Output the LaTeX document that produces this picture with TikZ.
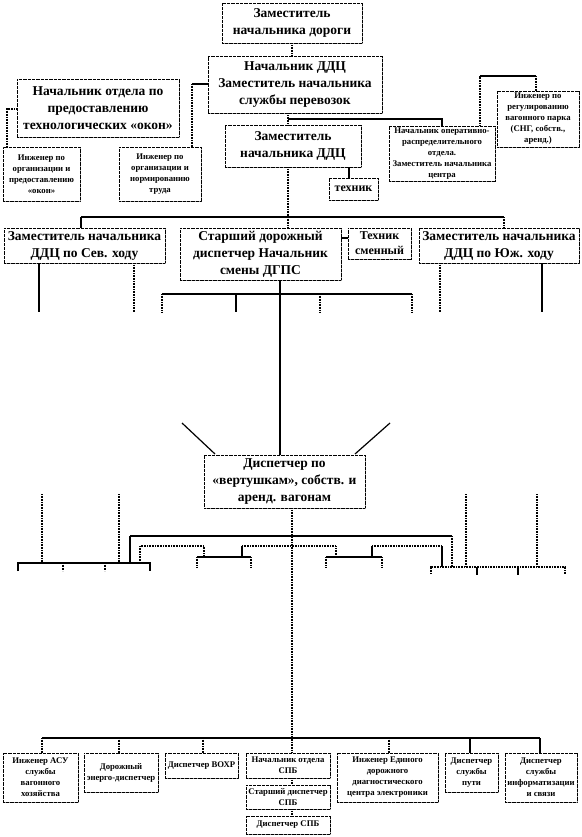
\documentclass[tikz,border=0pt]{standalone}
\usepackage{fontspec}
\setmainfont{Liberation Serif}
\usetikzlibrary{shadows}
\begin{document}
\begin{tikzpicture}[x=1pt,y={(0pt,-1pt)},
  box/.style={draw=black, dash pattern=on 0.8pt off 0.5pt, line width=0.7pt, fill=white, inner sep=0pt, align=center,
    drop shadow={shadow xshift=1.2pt, shadow yshift=-1.2pt, fill=gray!70, opacity=1}},
  sz/.style 2 args={minimum width=#1pt, minimum height=#2pt},
  big/.style={font=\fontsize{13.5}{17}\selectfont\bfseries},
  mid/.style={font=\fontsize{12}{15}\selectfont\bfseries},
  sml/.style={font=\fontsize{8.7}{11}\selectfont\bfseries},
  sol/.style={line width=1.2pt},
  dot/.style={line width=1.4pt, dash pattern=on 1pt off 0.6pt}]
\useasboundingbox (0,0) rectangle (581,837);
% ---- boxes ----
\node[box,big,sz={140}{40}] (b1) at (292,23) {Заместитель\\начальника дороги};
\node[box,big,sz={174}{57}] (b2) at (295,84.5) {Начальник ДДЦ\\Заместитель начальника\\службы перевозок};
\node[box,big,sz={162}{58}] (b3) at (98,108) {Начальник отдела по\\предоставлению\\технологических «окон»};
\node[box,sml,sz={77}{54}] (s1) at (41.5,174) {Инженер по\\организации и\\предоставлению\\«окон»};
\node[box,sml,sz={82}{54}] (s2) at (160,174) {Инженер по\\организации и\\нормированию\\труда};
\node[box,big,sz={136}{42}] (b4) at (293,146) {Заместитель\\начальника ДДЦ};
\node[box,sml,sz={106}{55}] (b5) at (442,153.5) {Начальник оперативно-\\распределительного\\отдела.\\Заместитель начальника\\центра};
\node[box,sml,sz={82}{56}] (b6) at (538,119) {Инженер по\\регулированию\\вагонного парка\\(СНГ, собств.,\\аренд.)};
\node[box,mid,sz={49}{22}] (b7) at (353.5,189) {техник};
\node[box,big,sz={161}{35}] (c1) at (84.5,245.5) {Заместитель начальника\\ДДЦ по Сев. ходу};
\node[box,big,sz={161}{52}] (c2) at (260.5,254) {Старший дорожный\\диспетчер Начальник\\смены ДГПС};
\node[box,mid,sz={63}{31}] (c3) at (379.5,243.5) {Техник\\сменный};
\node[box,big,sz={160}{35}] (c4) at (499,245.5) {Заместитель начальника\\ДДЦ по Юж. ходу};
\node[box,big,sz={161}{53}] (d) at (284.5,481.5) {Диспетчер по\\«вертушкам», собств. и\\аренд. вагонам};
\node[box,sml,sz={75}{49}] (e1) at (40.5,777.5) {Инженер АСУ\\службы\\вагонного\\хозяйства};
\node[box,sml,sz={74}{39}] (e2) at (121,772.5) {Дорожный\\энерго-диспетчер};
\node[box,sml,sz={73}{25}] (e3) at (201.5,765.5) {Диспетчер ВОХР};
\node[box,sml,sz={84}{25}] (e4) at (288,765.5) {Начальник отдела\\СПБ};
\node[box,sml,sz={84}{24}] (e5) at (288,797) {Старший диспетчер\\СПБ};
\node[box,sml,sz={84}{18}] (e6) at (288,825) {Диспетчер СПБ};
\node[box,sml,sz={101}{49}] (e7) at (387.5,777.5) {Инженер Единого\\дорожного\\диагностического\\центра электроники};
\node[box,sml,sz={53}{39}] (e8) at (471.5,772.5) {Диспетчер\\службы\\пути};
\node[box,sml,sz={72}{49}] (e9) at (541,777.5) {Диспетчер\\службы\\информатизации\\и связи};
% ---- coordinates ----
\coordinate (x292) at (292,0);
\coordinate (x288) at (288,0);
\coordinate (x280) at (280,0);
\coordinate (x349) at (349,0);
\coordinate (j1) at (192,84);
\coordinate (j2) at (7,109);
\coordinate (m1) at (288,119);
\coordinate (j3) at (442,119);
\coordinate (j4) at (480,76);
\coordinate (j5) at (536,76);
\coordinate (bl) at (81,217);
\coordinate (br) at (504,217);
\coordinate (y238) at (0,238);
% ---- top connectors ----
\draw[dot] (b1.south -| x292) -- (b2.north -| x292);
\draw[sol] (b2.west |- j1) -- (j1);
\draw[dot] (j1) -- (j1 |- s2.north);
\draw[dot] (b3.west |- j2) -- (j2) -- (j2 |- s1.north);
\draw[dot] (b2.south -| x288) -- (b4.north -| x288);
\draw[sol] (m1) -- (j3) -- (j3 |- b5.north);
\draw[dot] (b5.north -| j4) -- (j4);
\draw[sol] (j4) -- (j5);
\draw[dot] (j5) -- (j5 |- b6.north);
\draw[sol] (b4.south -| x349) -- (b7.north -| x349);
\draw[dot] (b4.south -| x288) -- (c2.north -| x288);
\draw[sol] (bl) -- (br);
\draw[sol] (bl) -- (bl |- c1.north);
\draw[dot] (br) -- (br |- c4.north);
\draw[sol] (c2.east |- y238) -- (c3.west |- y238);
% ---- fragments under row C ----
\coordinate (f1) at (39,312);  \draw[sol] (c1.south -| f1) -- (f1);
\coordinate (f2) at (134,312); \draw[dot] (c1.south -| f2) -- (f2);
\coordinate (f3) at (440,312); \draw[dot] (c4.south -| f3) -- (f3);
\coordinate (f4) at (542,312); \draw[sol] (c4.south -| f4) -- (f4);
\coordinate (g1) at (162,294); \coordinate (g2) at (412,294);
\draw[sol] (g1) -- (g2);
\coordinate (g3) at (236,294); \coordinate (g4) at (320,294);
\draw[dot] (g1) -- ++(0,18);
\draw[sol] (g3) -- ++(0,18);
\draw[dot] (g4) -- ++(0,18);
\draw[dot] (g2) -- ++(0,18);
\draw[sol] (c2.south -| x280) -- (d.north -| x280);
\coordinate (dl1) at (182,423); \coordinate (dl2) at (215,454);
\coordinate (dr1) at (390,423); \coordinate (dr2) at (355,454);
\draw[sol] (dl1) -- (dl2);
\draw[sol] (dr1) -- (dr2);
% ---- structure below D ----
\coordinate (h1) at (130,536); \coordinate (h2) at (452,536);
\draw[sol] (h1) -- (h2);
\draw[sol] (h1) -- (130,563);
\draw[dot] (h2) -- (452,567);
\coordinate (k1) at (140,546); \coordinate (k2) at (204,546);
\draw[dot] (140,563) -- (k1) -- (k2) -- (204,557);
\draw[sol] (197,557) -- (251,557);
\draw[dot] (197,557) -- (197,567);
\draw[dot] (251,557) -- (251,567);
\draw[sol] (242,557) -- (242,546);
\draw[dot] (242,546) -- (336,546) -- (336,557);
\draw[sol] (326,557) -- (382,557);
\draw[dot] (326,557) -- (326,567);
\draw[dot] (382,557) -- (382,567);
\draw[sol] (372,557) -- (372,546);
\draw[dot] (372,546) -- (442,546);
\draw[sol] (442,546) -- (442,567);
% left bus
\coordinate (lb1) at (18,563); \coordinate (lb2) at (150,563);
\draw[sol] (18,571) -- (lb1) -- (lb2) -- (150,571);
\draw[dot] (42,494) -- (42,563);
\draw[dot] (119,494) -- (119,563);
\draw[dot] (63,563) -- (63,571);
\draw[dot] (105,563) -- (105,571);
% right bus
\coordinate (rb1) at (431,567); \coordinate (rb2) at (565,567);
\draw[dot] (431,574) -- (rb1) -- (rb2) -- (565,574);
\draw[dot] (466,494) -- (466,567);
\draw[dot] (537,494) -- (537,567);
\draw[sol] (477,567) -- (477,575);
\draw[sol] (518,567) -- (518,575);
% ---- bottom ----
\coordinate (bb1) at (42,738); \coordinate (bb2) at (540,738);
\draw[sol] (bb1) -- (bb2);
\draw[dot] (d.south -| x292) -- (e4.north -| x292);
\draw[dot] (e4.south -| x292) -- (e5.north -| x292);
\draw[dot] (e5.south -| x292) -- (e6.north -| x292);
\draw[dot] (bb1) -- (bb1 |- e1.north);
\coordinate (x119) at (119,738); \draw[dot] (x119) -- (x119 |- e2.north);
\coordinate (x203) at (203,738); \draw[dot] (x203) -- (x203 |- e3.north);
\coordinate (x389) at (389,738); \draw[dot] (x389) -- (x389 |- e7.north);
\coordinate (x470) at (470,738); \draw[sol] (x470) -- (x470 |- e8.north);
\draw[sol] (bb2) -- (bb2 |- e9.north);
\end{tikzpicture}
\end{document}
